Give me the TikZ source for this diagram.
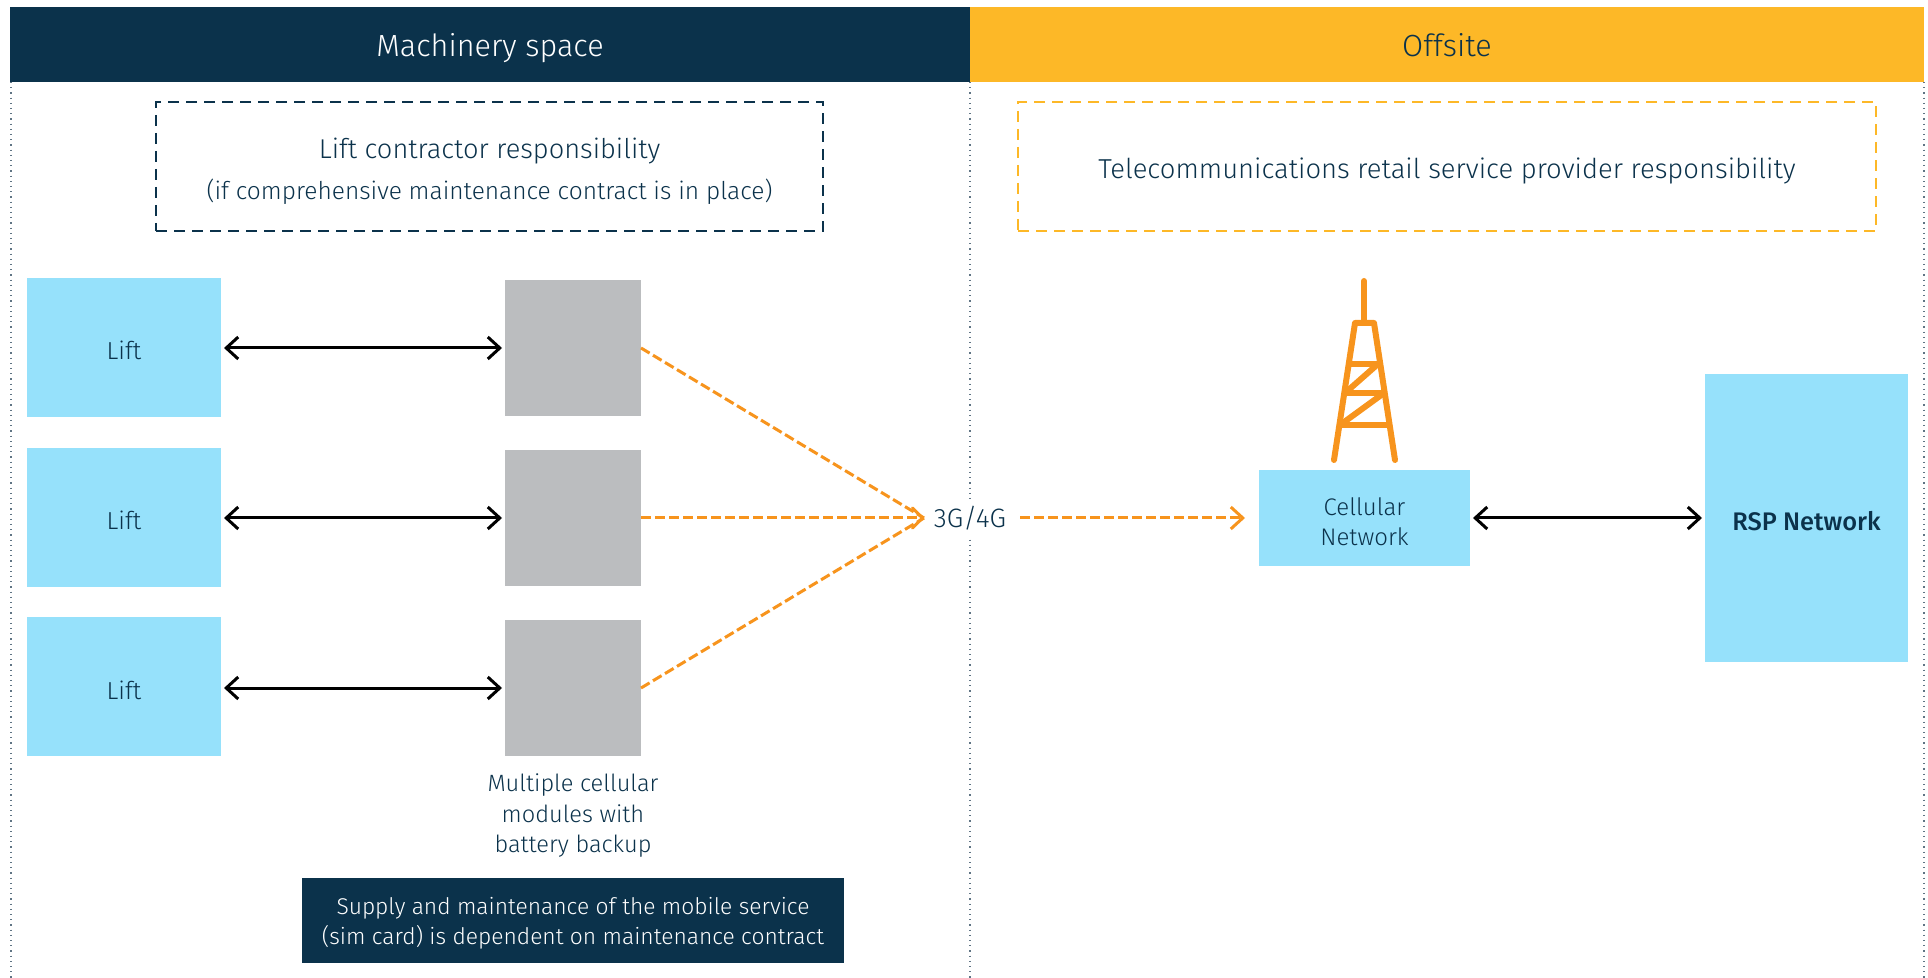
\documentclass[tikz,border=0pt]{standalone}
\usepackage{fontspec}
\setmainfont{Fira Sans}[UprightFont={* Light},BoldFont={* Medium}]
\usepackage{tikz}
\usetikzlibrary{positioning}
\usetikzlibrary{chains}
\usetikzlibrary{arrows.meta}
\definecolor{navy}{HTML}{0B324B}
\definecolor{amber}{HTML}{FDB827}
\definecolor{sky}{HTML}{96E1FB}
\definecolor{modgrey}{HTML}{BBBDBF}
\definecolor{signal}{HTML}{F7941D}
\definecolor{divider}{HTML}{5F7484}
\tikzstyle{arrow} = [line width=1.5pt,{Straight Barb[length=6pt,width=11pt]}-{Straight Barb[length=6pt,width=11pt]},shorten <=1.5pt,shorten >=1.5pt]
\tikzstyle{radio} = [line width=1.5pt,signal,dash pattern=on 5pt off 2pt]

\begin{document}
\begin{tikzpicture}[x=0.5pt,y=-0.5pt,
  inner sep=0pt,outer sep=0pt,
  head/.style = {minimum height=37.5pt,align=center,text depth=0pt,font=\fontsize{15.3}{17}\selectfont},
  duty/.style = {draw,line width=1pt,dash pattern=on 5.5pt off 3.5pt,minimum height=64.5pt,align=center,text=navy},
  lift/.style = {fill=sky,minimum width=97pt,minimum height=69.5pt,text=navy,text height=12.5pt,text depth=0pt,font=\fontsize{12.3}{14}\selectfont,
  on chain,align=center},
  module/.style = {fill=modgrey,minimum width=68pt,minimum height=68pt,
  on chain,align=center},
  net/.style = {fill=sky,text=navy,align=center,text depth=0pt,font=\fontsize{12}{15}\selectfont},
  split/.style = {divider,line width=0.6pt,dotted}]
 \useasboundingbox (0,0) rectangle (1928,978);
 \coordinate (t1) at (11,82);
 \coordinate (b1) at (11,978);
 \coordinate (t2) at (970,82);
 \coordinate (b2) at (970,978);
 \coordinate (t3) at (1924,82);
 \coordinate (b3) at (1924,978);
 \draw[split] (t1) -- (b1);
 \draw[split] (t2) -- (b2);
 \draw[split] (t3) -- (b3);
 \node[head,fill=navy,text=white,minimum width=480pt] (hmach) at (490,44.5) {Machinery space};
 \node[head,fill=amber,text=navy,minimum width=477pt] (hoff) at (1447,44.5) {Offsite};
 \node[duty,draw=navy,minimum width=333.5pt,text height=35.5pt] (dlift) at (489.5,166.5)
  {\fontsize{13.6}{20}\selectfont Lift contractor responsibility\\[6.5pt]\fontsize{12.25}{20}\selectfont (if comprehensive maintenance contract is in place)};
 \node[duty,draw=amber,minimum width=429pt,text height=12pt,text depth=0pt,font=\fontsize{13.7}{16}\selectfont] (dtel) at (1447,166.5)
  {Telecommunications retail service provider responsibility};
 \begin{scope}[node distance=15.3pt,start chain=going below]
  \node[lift] (lift1) at (124,347.5) {Lift};
  \node[lift] (lift2) {Lift};
  \node[lift] (lift3) {Lift};
 \end{scope}
 \begin{scope}[node distance=17pt,start chain=going below]
  \node[module] (mod1) at (573,348) {};
  \node[module] (mod2) {};
  \node[module] (mod3) {};
 \end{scope}
 \node[below=9pt of mod3,text=navy,align=center,font=\fontsize{11.8}{15.3}\selectfont] (modtxt)
  {Multiple cellular\\modules with\\battery backup};
 \node[fill=navy,text=white,minimum width=271pt,minimum height=42.5pt,align=center,text depth=0pt,font=\fontsize{11.4}{15}\selectfont] (note) at (573,920.5)
  {Supply and maintenance of the mobile service\\(sim card) is dependent on maintenance contract};
 \node[fill=white,minimum width=46pt,minimum height=19pt,text=navy,font=\fontsize{13.3}{14}\selectfont] (gen) at (970,518) {3G/4G};
 \node[net,minimum width=105.5pt,minimum height=47.5pt,text height=27.8pt] (cell) at (1364.5,518) {Cellular\\Network};
 \node[net,minimum width=101.5pt,minimum height=144pt,text height=12.5pt,font=\bfseries\fontsize{12.7}{14}\selectfont] (rsp) at (1806.5,518) {RSP Network};
 \draw[arrow] (lift1.east |- mod1) -- (mod1.west);
 \draw[arrow] (lift2.east |- mod2) -- (mod2.west);
 \draw[arrow] (lift3.east |- mod3) -- (mod3.west);
 \draw[arrow] (cell.east) -- (rsp.west);
 \draw[radio] (mod1.east) -- (gen.west);
 \draw[radio,-{Straight Barb[length=5pt,width=10pt,round]}] (mod2.east) -- (gen.west);
 \draw[radio] (mod3.east) -- (gen.west);
 \draw[radio,-{Straight Barb[length=6pt,width=11pt]},shorten <=2pt,shorten >=7pt] (gen.east) -- (cell.west);
 % tower
 \begin{scope}[signal,line cap=round,line join=round,line width=3pt]
  \draw (1364,281) -- (1364,323);
  \draw (1334,460) -- (1355,323) -- (1374,323) -- (1395,460);
  \draw (1350,364) -- (1378,364) (1345,393) -- (1384,393) (1340,425) -- (1389,425);
  \draw (1345,393) -- (1378,364) (1340,425) -- (1384,393);
 \end{scope}
\end{tikzpicture}
\end{document}
